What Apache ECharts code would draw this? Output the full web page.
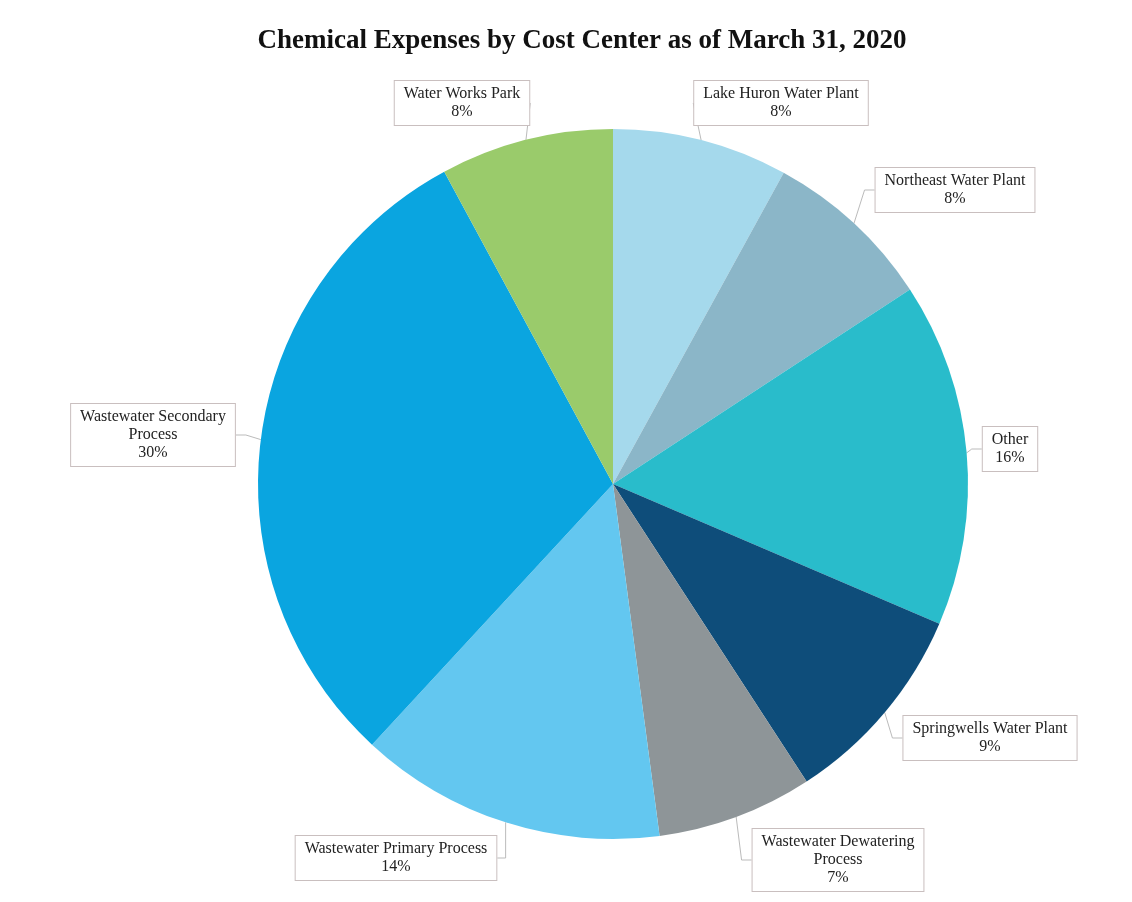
<!DOCTYPE html>
<html>
<head>
<meta charset="utf-8">
<script src="https://cdn.jsdelivr.net/npm/echarts@6/dist/echarts.min.js"></script>
<style>html,body{margin:0;padding:0;background:#fff;}#chart{width:1132px;height:902px;}</style>
</head>
<body>
<div id="chart"></div>
<script>
const titleText = 'Chemical Expenses by Cost Center as of March 31, 2020';
const categories = ['Lake Huron Water Plant', 'Northeast Water Plant', 'Other', 'Springwells Water Plant', 'Wastewater Dewatering\nProcess', 'Wastewater Primary Process', 'Wastewater Secondary\nProcess', 'Water Works Park'];
const values = [8.0, 7.8, 15.7, 9.4, 7.1, 14.0, 30.3, 7.9];
const percentLabels = ['8%', '8%', '16%', '9%', '7%', '14%', '30%', '8%'];
const colors = ['#a5d9ec', '#8bb6c8', '#29bccb', '#0e4d7a', '#8e9598', '#63c7f0', '#0aa5e0', '#9acb6b'];
// label box centres (layout)
const labelCenters = [[781,103],[955,190],[1010,449],[990,738],[838,860],[396,858],[153,435],[462,103]];

const chart = echarts.init(document.getElementById('chart'));
chart.setOption({
  backgroundColor: '#fff',
  animation: false,
  title: {
    text: titleText,
    left: 577, top: 23, textAlign: 'center',
    textStyle: {fontFamily: 'Liberation Serif', fontWeight: 'bold', fontSize: 27, color: '#111'}
  },
  series: [{
    type: 'pie',
    center: [613, 484],
    radius: [0, 355],
    startAngle: 90,
    clockwise: true,
    avoidLabelOverlap: false,
    itemStyle: {borderWidth: 0},
    label: {
      show: true,
      formatter: p => p.name + '\n' + percentLabels[p.dataIndex],
      fontFamily: 'Liberation Serif', fontSize: 16, lineHeight: 18, color: '#222',
      backgroundColor: '#fff', borderColor: '#c9bfbf', borderWidth: 1, padding: [4, 9],
      align: 'center'
    },
    labelLine: {show: true, length: 10, length2: 10, lineStyle: {color: '#bbb', width: 1}},
    labelLayout: p => ({x: labelCenters[p.dataIndex][0], y: labelCenters[p.dataIndex][1], align: 'center', verticalAlign: 'middle'}),
    data: categories.map((c, i) => ({name: c, value: values[i], itemStyle: {color: colors[i]}}))
  }]
});
</script>
</body>
</html>
